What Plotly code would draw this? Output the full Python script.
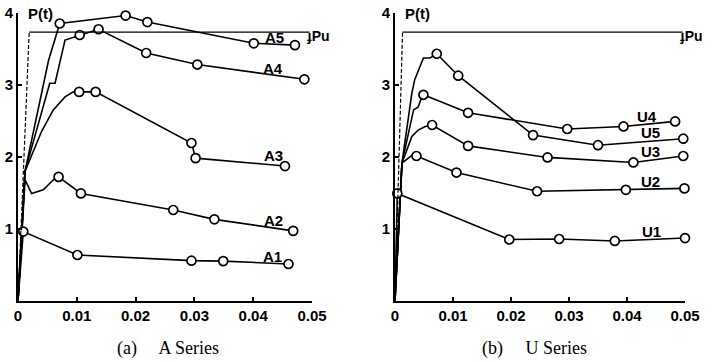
import plotly.graph_objects as go

# ---------------- data: A series (left) ----------------
PU_A = 3.73
PU_A_R = 0.0019
A_pre = {
    "A1": ([0.0], [0.0]),
    "A2": ([0.0, 0.0012, 0.0023, 0.0043, 0.0063], [0.0, 1.68, 1.49, 1.54, 1.70]),
    "A3": ([0.0, 0.0012, 0.0040, 0.0060, 0.0080, 0.0094], [0.0, 1.80, 2.35, 2.65, 2.83, 2.90]),
    "A4": ([0.0, 0.0012, 0.0054, 0.0063, 0.0080], [0.0, 1.80, 3.02, 3.02, 3.62]),
    "A5": ([0.0, 0.0012, 0.0052], [0.0, 1.80, 3.34]),
}
A_R = {
    "A1": [0.0009, 0.0101, 0.0295, 0.0349, 0.0460],
    "A2": [0.0069, 0.0107, 0.0264, 0.0334, 0.0468],
    "A3": [0.0104, 0.0132, 0.0295, 0.0302, 0.0454],
    "A4": [0.0105, 0.0137, 0.0218, 0.0305, 0.0487],
    "A5": [0.0071, 0.0183, 0.0220, 0.0401, 0.0471],
}
A_P = {
    "A1": [0.96, 0.635, 0.556, 0.55, 0.51],
    "A2": [1.72, 1.49, 1.26, 1.13, 0.97],
    "A3": [2.90, 2.90, 2.19, 1.98, 1.87],
    "A4": [3.69, 3.77, 3.44, 3.28, 3.075],
    "A5": [3.85, 3.96, 3.87, 3.575, 3.55],
}
A_label_pos = {"A5": (0.0437, 3.65), "A4": (0.0434, 3.23), "A3": (0.0434, 2.02),
               "A2": (0.0434, 1.11), "A1": (0.0432, 0.61)}

# ---------------- data: U series (right) ----------------
PU_U = 3.73
PU_U_R = 0.0013
U_pre = {
    "U1": ([0.0], [0.0]),
    "U2": ([0.0, 0.0012, 0.0023, 0.0029], [0.0, 1.91, 1.98, 2.02]),
    "U3": ([0.0, 0.0012, 0.0029, 0.0040, 0.0052], [0.0, 1.91, 2.28, 2.37, 2.42]),
    "U4": ([0.0, 0.0012, 0.0032, 0.0040, 0.0046], [0.0, 1.91, 2.65, 2.69, 2.83]),
    "U5": ([0.0, 0.0012, 0.0029, 0.0034, 0.0049, 0.0060], [0.0, 1.91, 2.88, 3.07, 3.37, 3.37]),
}
U_R = {
    "U1": [0.0004, 0.0197, 0.0283, 0.0379, 0.0500],
    "U2": [0.0037, 0.0106, 0.0245, 0.0398, 0.0499],
    "U3": [0.0064, 0.0126, 0.0263, 0.0411, 0.0497],
    "U4": [0.0049, 0.0126, 0.0297, 0.0394, 0.0483],
    "U5": [0.0072, 0.0109, 0.0238, 0.0350, 0.0497],
}
U_P = {
    "U1": [1.49, 0.85, 0.857, 0.83, 0.87],
    "U2": [2.01, 1.78, 1.52, 1.54, 1.56],
    "U3": [2.44, 2.15, 1.99, 1.92, 2.01],
    "U4": [2.86, 2.61, 2.385, 2.42, 2.49],
    "U5": [3.43, 3.125, 2.30, 2.16, 2.25],
}
U_label_pos = {"U4": (0.0434, 2.56), "U5": (0.0440, 2.33), "U3": (0.0440, 2.07),
               "U2": (0.0440, 1.65), "U1": (0.0443, 0.96)}

x_ticks = [0, 0.01, 0.02, 0.03, 0.04, 0.05]
x_ticktext = ["0", "0.01", "0.02", "0.03", "0.04", "0.05"]
y_ticks = [1, 2, 3, 4]
y_ticktext = ["1", "2", "3", "4"]
R_MAX = 0.05

W, H = 718, 362
BOLD = dict(family="Liberation Sans", size=15, color="black", weight="bold")
PU_FONT = dict(family="Liberation Sans", size=14, color="black", weight="bold")

fig = go.Figure()


def add_panel(xr, yr, pre, Rs, Ps, pu, pu_r, labels):
    for k in Rs:
        px, py = pre[k]
        fig.add_trace(go.Scatter(x=px + Rs[k], y=py + Ps[k], mode="lines",
                                 line=dict(color="black", width=1.6),
                                 xaxis=xr, yaxis=yr, showlegend=False,
                                 hoverinfo="skip", cliponaxis=False))
    for k in Rs:
        fig.add_trace(go.Scatter(x=Rs[k], y=Ps[k], mode="markers",
                                 marker=dict(symbol="circle", size=9, color="white",
                                             line=dict(color="black", width=1.7)),
                                 xaxis=xr, yaxis=yr, showlegend=False, cliponaxis=False))
    # Pu: dashed elastic line and horizontal limit
    fig.add_trace(go.Scatter(x=[0, pu_r], y=[0, pu], mode="lines",
                             line=dict(color="black", width=1.2, dash="4px,2px"),
                             xaxis=xr, yaxis=yr, showlegend=False, cliponaxis=False))
    fig.add_trace(go.Scatter(x=[pu_r, R_MAX - 0.0004], y=[pu, pu], mode="lines",
                             line=dict(color="black", width=1.2),
                             xaxis=xr, yaxis=yr, showlegend=False, cliponaxis=False))
    for k, (lx, ly) in labels.items():
        fig.add_annotation(x=lx, y=ly, text=k, showarrow=False, xref=xr, yref=yr,
                           xanchor="center", yanchor="middle", font=BOLD)
    fig.add_annotation(x=R_MAX - 0.0012, y=pu - 0.05, text="ɟPu", showarrow=False,
                       xref=xr, yref=yr, xanchor="left", yanchor="middle", font=PU_FONT)
    fig.add_annotation(x=0.0013, y=3.99, text="P(t)", showarrow=False, xref=xr, yref=yr,
                       xanchor="left", yanchor="middle", font=BOLD)
    fig.add_annotation(x=R_MAX + 0.0005, y=0.17, text="R(rad.)", showarrow=False,
                       xref=xr, yref=yr, xanchor="center", yanchor="middle", font=BOLD)


add_panel("x", "y", A_pre, A_R, A_P, PU_A, PU_A_R, A_label_pos)
add_panel("x2", "y2", U_pre, U_R, U_P, PU_U, PU_U_R, U_label_pos)

ydom = [1 - 300.7 / H, 1 - 12.7 / H]
axis_common = dict(showline=True, linecolor="black", linewidth=1.6, showgrid=False,
                   zeroline=False, ticks="inside", ticklen=4, tickwidth=1.5,
                   tickcolor="black", tickfont=BOLD, automargin=False)

fig.update_layout(
    width=W, height=H, margin=dict(l=0, r=0, t=0, b=0),
    paper_bgcolor="white", plot_bgcolor="white",
    xaxis=dict(domain=[18 / W, 312 / W], range=[0, R_MAX], tickvals=x_ticks,
               ticktext=x_ticktext, anchor="y", **axis_common),
    yaxis=dict(domain=ydom, range=[0, 4], tickvals=y_ticks, ticktext=y_ticktext,
               anchor="x", **axis_common),
    xaxis2=dict(domain=[395 / W, 685 / W], range=[0, R_MAX], tickvals=x_ticks,
                ticktext=x_ticktext, anchor="y2", **axis_common),
    yaxis2=dict(domain=ydom, range=[0, 4], tickvals=y_ticks, ticktext=y_ticktext,
                anchor="x2", **axis_common),
)

SERIF = dict(family="Liberation Serif", size=18, color="black")
fig.add_annotation(x=168 / W, y=1 - 348 / H, xref="paper", yref="paper",
                   xanchor="center", yanchor="middle",
                   text="(a)\u2003 A Series", showarrow=False, font=SERIF)
fig.add_annotation(x=534 / W, y=1 - 348 / H, xref="paper", yref="paper",
                   xanchor="center", yanchor="middle",
                   text="(b)\u2003 U Series", showarrow=False, font=SERIF)

fig.write_html("out.html", config={"displayModeBar": False},
               post_script="document.body.style.margin='0';document.body.style.overflow='hidden';")
